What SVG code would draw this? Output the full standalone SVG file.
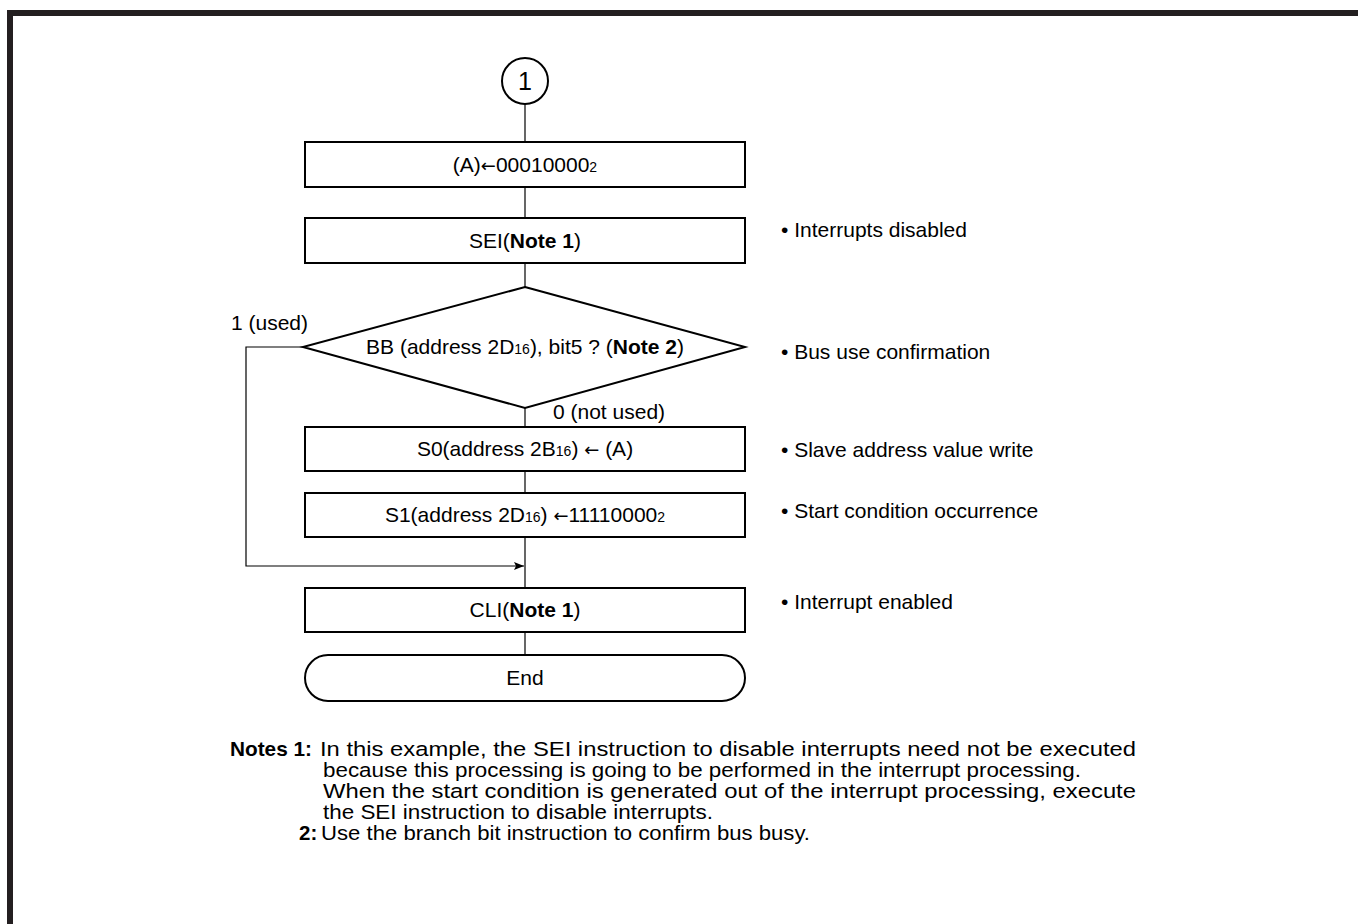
<svg xmlns="http://www.w3.org/2000/svg" width="1358" height="924" viewBox="0 0 1358 924">
<defs>
<marker id="arr" viewBox="0 0 10 10" refX="10" refY="5" markerWidth="10" markerHeight="10" markerUnits="userSpaceOnUse" orient="auto">
<path d="M0,1 L10,5 L0,9 L2,5 Z" fill="#000"/>
</marker>
<style>
.t{font-family:"Liberation Sans",Arial,sans-serif;font-size:21px;fill:#000}
.n{font-size:20.5px}
.c{text-anchor:middle}
.b{font-weight:bold}
.s{font-size:14px}
.ar{font-family:"DejaVu Sans",sans-serif;font-size:18px}
.box{fill:#fff;stroke:#000;stroke-width:2}
.ln{fill:none;stroke:#000;stroke-width:1.2}
</style>
</defs>
<rect width="1358" height="924" fill="#fff"/>
<path d="M10,924 V13 H1358" fill="none" stroke="#231f20" stroke-width="6"/>
<g id="connectors">
<path class="ln" d="M525,104 V142"/>
<path class="ln" d="M525,187 V218"/>
<path class="ln" d="M525,263 V287"/>
<path class="ln" d="M525,408 V427"/>
<path class="ln" d="M525,470 V493"/>
<path class="ln" d="M525,537 V588"/>
<path class="ln" d="M525,632 V655"/>
<path class="ln" d="M303,347 H246 V566 H524" marker-end="url(#arr)"/>
</g>
<g id="n_start"><circle cx="525" cy="81" r="23" class="box"/><text class="t c" x="525" y="90" style="font-size:25px">1</text></g>
<g id="n_a"><rect class="box" x="305" y="142" width="440" height="45"/><text class="t c" x="525" y="172">(A)<tspan class="ar">←</tspan>00010000<tspan class="s">2</tspan></text></g>
<g id="n_sei"><rect class="box" x="305" y="218" width="440" height="45"/><text class="t c" x="525" y="248">SEI(<tspan class="b">Note 1</tspan>)</text></g>
<g id="n_bb"><polygon class="box" points="525,287 745,347 525,408 303,347"/><text class="t c" x="525" y="354">BB (address 2D<tspan class="s">16</tspan>), bit5 ? (<tspan class="b">Note 2</tspan>)</text></g>
<g id="n_s0"><rect class="box" x="305" y="427" width="440" height="44"/><text class="t c" x="525" y="456">S0(address 2B<tspan class="s">16</tspan>) <tspan class="ar">←</tspan> (A)</text></g>
<g id="n_s1"><rect class="box" x="305" y="493" width="440" height="44"/><text class="t c" x="525" y="522">S1(address 2D<tspan class="s">16</tspan>)  <tspan class="ar">←</tspan>11110000<tspan class="s">2</tspan></text></g>
<g id="n_cli"><rect class="box" x="305" y="588" width="440" height="44"/><text class="t c" x="525" y="617">CLI(<tspan class="b">Note 1</tspan>)</text></g>
<g id="n_end"><rect class="box" x="305" y="655" width="440" height="46" rx="23" ry="23"/><text class="t c" x="525" y="685">End</text></g>
<g id="labels">
<text class="t" x="231" y="330">1 (used)</text>
<text class="t" x="553" y="419">0 (not used)</text>
<text class="t" x="781" y="237">• Interrupts disabled</text>
<text class="t" x="781" y="359">• Bus use confirmation</text>
<text class="t" x="781" y="457">• Slave address value write</text>
<text class="t" x="781" y="518">• Start condition occurrence</text>
<text class="t" x="781" y="609">• Interrupt enabled</text>
</g>
<g id="notes">
<text class="t n b" x="230" y="756" textLength="82" lengthAdjust="spacingAndGlyphs">Notes 1:</text>
<text class="t n" x="320" y="756" textLength="816" lengthAdjust="spacingAndGlyphs">In this example, the SEI instruction to disable interrupts need not be executed</text>
<text class="t n" x="323" y="777" textLength="758" lengthAdjust="spacingAndGlyphs">because this processing is going to be performed in the interrupt processing.</text>
<text class="t n" x="323" y="798" textLength="813" lengthAdjust="spacingAndGlyphs">When the start condition is generated out of the interrupt processing, execute</text>
<text class="t n" x="323" y="819" textLength="390" lengthAdjust="spacingAndGlyphs">the SEI instruction to disable interrupts.</text>
<text class="t n b" x="299" y="840">2:</text>
<text class="t n" x="321" y="840" textLength="489" lengthAdjust="spacingAndGlyphs">Use the branch bit instruction to confirm bus busy.</text>
</g>
</svg>
